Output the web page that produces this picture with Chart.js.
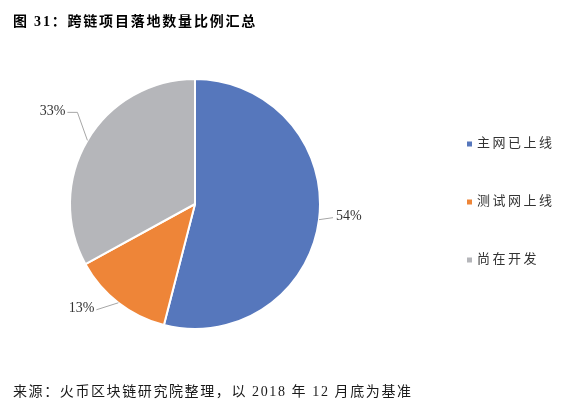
<!DOCTYPE html>
<html>
<head>
<meta charset="utf-8">
<script src="https://cdn.jsdelivr.net/npm/chart.js@4"></script>
<style>
  html, body { margin: 0; padding: 0; background: #fff; }
  #wrap { position: relative; width: 569px; height: 410px; }
</style>
</head>
<body>
<div id="wrap"><canvas id="pie" width="569" height="410"></canvas></div>
<script>
const titleText = "图 31：跨链项目落地数量比例汇总";
const sourceText = "来源：火币区块链研究院整理，以 2018 年 12 月底为基准";
const categories = ["主网已上线", "测试网上线", "尚在开发"];
const shares = [54, 13, 33];
const sliceColors = ["#5677bc", "#ee8538", "#b5b6ba"];

// leader line bends, relative to where the line leaves the slice
const leaderBends = [
  [[14, -2]],
  [[-22, 7]],
  [[-10, -28], [-20, -28]]
];

const CJK = "\"Liberation Serif\", \"Noto Sans CJK SC\", serif";

const decorations = {
  id: "decorations",
  afterDraw(chart) {
    const ctx = chart.ctx;
    const meta = chart.getDatasetMeta(0);

    ctx.save();
    // title + source
    ctx.fillStyle = "#000";
    ctx.textBaseline = "middle";
    ctx.textAlign = "left";
    ctx.font = "bold 14px " + CJK;
    ctx.letterSpacing = "1.8px";
    ctx.fillText(titleText, 13, 22);
    ctx.font = "14px " + CJK;
    ctx.letterSpacing = "1.6px";
    ctx.fillStyle = "#1a1a1a";
    ctx.fillText(sourceText, 13, 392);

    // slice labels with leader lines
    ctx.letterSpacing = "0px";
    ctx.font = "14px \"Liberation Serif\", serif";
    meta.data.forEach((arc, i) => {
      const p = arc.getProps(["x", "y", "startAngle", "endAngle", "outerRadius"], true);
      const mid = (p.startAngle + p.endAngle) / 2;
      const sx = p.x + Math.cos(mid) * p.outerRadius;
      const sy = p.y + Math.sin(mid) * p.outerRadius;
      ctx.strokeStyle = "#a6a6a6";
      ctx.lineWidth = 1;
      ctx.beginPath();
      ctx.moveTo(sx, sy);
      let ex = sx, ey = sy;
      leaderBends[i].forEach(b => {
        ex = sx + b[0];
        ey = sy + b[1];
        ctx.lineTo(ex, ey);
      });
      ctx.stroke();
      const right = ex >= sx;
      ctx.textAlign = right ? "left" : "right";
      ctx.fillStyle = "#333";
      ctx.fillText(shares[i] + "%", ex + (right ? 3 : -2), ey - 1);
    });

    // legend on the right
    ctx.textAlign = "left";
    ctx.font = "13px " + CJK;
    ctx.letterSpacing = "2.5px";
    categories.forEach((name, i) => {
      const y = 144 + i * 58;
      ctx.fillStyle = sliceColors[i];
      ctx.fillRect(467, y - 2.5, 5, 5);
      ctx.fillStyle = "#333";
      ctx.fillText(name, 477, y);
    });
    ctx.restore();
  }
};

new Chart(document.getElementById("pie"), {
  type: "pie",
  data: {
    labels: categories,
    datasets: [{
      data: shares,
      backgroundColor: sliceColors,
      borderColor: "#ffffff",
      borderWidth: 2
    }]
  },
  options: {
    responsive: false,
    animation: false,
    layout: { padding: { left: 69, right: 248, top: 78, bottom: 80 } },
    plugins: {
      legend: { display: false },
      tooltip: { enabled: false }
    }
  },
  plugins: [decorations]
});
</script>
</body>
</html>
